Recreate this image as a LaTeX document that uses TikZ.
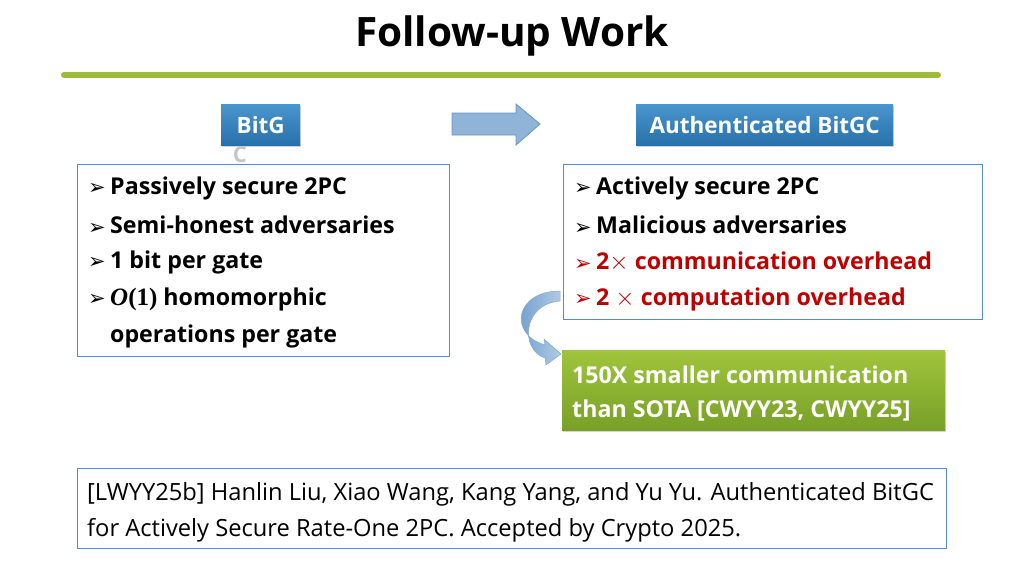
\documentclass[tikz,border=0pt]{standalone}
\usepackage{fontspec}
\setmainfont{Open Sans}
\newfontfamily\symfont{DejaVu Sans}
\newfontfamily\serifmath{Liberation Serif}
\usetikzlibrary{shadows,calc}
\definecolor{ttlgreen}{RGB}{158,188,58}
\definecolor{boxblue}{RGB}{84,141,200}
\definecolor{hdtop}{RGB}{74,150,206}
\definecolor{hdbot}{RGB}{40,112,170}
\definecolor{arrfill}{RGB}{143,180,216}
\definecolor{arredge}{RGB}{100,150,200}
\definecolor{redtxt}{RGB}{192,0,0}
\definecolor{grtop}{RGB}{160,196,60}
\definecolor{grbot}{RGB}{120,160,40}
\newcommand{\bul}{\makebox[22pt][l]{\raisebox{-0.5pt}{\symfont\fontsize{21}{21}\selectfont ➢}}}
\newcommand{\bigO}{{\serifmath\fontsize{25}{27}\selectfont\bfseries\itshape O\upshape(1)}}
\tikzset{
  hdr/.style={rectangle, top color=hdtop, bottom color=hdbot, text=white,
    font=\fontsize{22.5}{26}\selectfont\bfseries, drop shadow={opacity=0.35,shadow xshift=1pt,shadow yshift=-2pt},
    inner sep=0pt, anchor=north west},
  frame/.style={draw=boxblue, line width=1.2pt, fill=white, inner sep=0pt, anchor=north west},
  item/.style={anchor=west, inner sep=0pt, font=\fontsize{23.2}{27}\selectfont\bfseries},
  ref/.style={anchor=west, inner sep=0pt, font=\fontsize{23.7}{28}\selectfont},
}
\begin{document}
\begin{tikzpicture}[x=1pt,y=-1pt]
\useasboundingbox (0,0) rectangle (1024,576);
% title
\node[font=\fontsize{40.5}{46}\selectfont\bfseries] (title) at (512,36) {Follow-up Work};
\coordinate (gl) at (64,75);
\coordinate (gr) at (938,75);
\draw[ttlgreen, line width=6pt, line cap=round] (gl) -- (gr);
% headers
\node[hdr, minimum width=79pt, minimum height=41pt] (bitg) at (221,104) {BitG};
\node[font=\fontsize{22}{22}\selectfont\bfseries, text=black!22] (bitgc) at (240,155) {C};
\node[hdr, minimum width=257pt, minimum height=41pt] (abitgc) at (636,104) {Authenticated BitGC};
% block arrow
\path[fill=arrfill, draw=arredge, line width=0.8pt]
  (452,113) -- (516,113) -- (516,104) -- (540,124) -- (516,145) -- (516,135) -- (452,135) -- cycle;
% left frame
\node[frame, minimum width=372pt, minimum height=192pt] (lbox) at (77,164) {};
\node[item] (l1) at (88,188) {\bul Passively secure 2PC};
\node[item] (l2) at (88,225) {\bul Semi-honest adversaries};
\node[item] (l3) at (88,262) {\bul 1 bit per gate};
\node[item] (l4) at (88,299) {\bul\bigO\ homomorphic};
\node[item] (l5) at (110,336) {operations per gate};
% right frame
\node[frame, minimum width=419pt, minimum height=155pt] (rbox) at (563,164) {};
\node[item] (r1) at (574,188) {\bul Actively secure 2PC};
\node[item] (r2) at (574,225) {\bul Malicious adversaries};
\node[item, text=redtxt] (r3) at (574,262) {\bul 2$\times$ communication overhead};
\node[item, text=redtxt] (r4) at (574,299) {\bul 2 $\times$ computation overhead};
% curved arrow
\path[left color=arredge, right color=arrfill!70, draw=arredge!80, line width=0.5pt]
  (560,291) .. controls (515,291) and (508,334) .. (545,345) -- (544,339) -- (561,354)
  -- (546,365) -- (545,358) .. controls (520,350) and (522,304) .. (560,301) -- cycle;
% green box
\node[rectangle, top color=grtop, bottom color=grbot, anchor=north west, inner sep=0pt,
  minimum width=383pt, minimum height=80pt,
  drop shadow={opacity=0.35,shadow xshift=1pt,shadow yshift=-2pt}] (gbox) at (562,350) {};
\node[item, text=white] (g1) at (572,375) {150X smaller communication};
\node[item, text=white] (g2) at (572,411) {than SOTA [CWYY23, CWYY25]};
% bottom ref
\node[frame, minimum width=869pt, minimum height=80pt] (bbox) at (77,468) {};
\node[ref] (b1) at (87,494) {[LWYY25b] Hanlin Liu, Xiao Wang, Kang Yang, and Yu Yu. Authenticated BitGC};
\node[ref] (b2) at (87,530) {for Actively Secure Rate-One 2PC. Accepted by Crypto 2025.};
\end{tikzpicture}
\end{document}
